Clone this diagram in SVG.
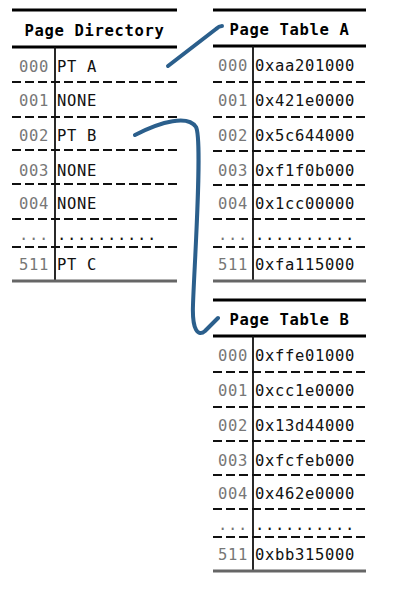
<svg xmlns="http://www.w3.org/2000/svg" width="405" height="590" viewBox="0 0 405 590">
<style>
text{font-family:"DejaVu Sans Mono","Liberation Mono",monospace;font-size:15.5px;letter-spacing:0.67px}
.t{font-weight:bold;text-anchor:middle}
.i{fill:#777;text-anchor:end}
.v{fill:#111}
.top{stroke:#000;stroke-width:3}
.bot{stroke:#666;stroke-width:3}
.d{stroke:#111;stroke-width:2;stroke-dasharray:9 4}
.div{stroke:#111;stroke-width:1.8}
.c{fill:none;stroke:#2b5f8c;stroke-width:4;stroke-linecap:round;stroke-linejoin:round}
</style>
<g id="page-directory">
<line class="top" x1="12" y1="10" x2="177" y2="10"/>
<text class="t" x="94.5" y="36">Page Directory</text>
<line class="top" x1="12" y1="47" x2="177" y2="47"/>
<line class="div" x1="55" y1="47" x2="55" y2="281"/>
<line class="d" x1="12" y1="82" x2="177" y2="82"/>
<line class="d" x1="12" y1="117" x2="177" y2="117"/>
<line class="d" x1="12" y1="150" x2="177" y2="150"/>
<line class="d" x1="12" y1="184" x2="177" y2="184"/>
<line class="d" x1="12" y1="219" x2="177" y2="219"/>
<line class="d" x1="12" y1="247" x2="177" y2="247"/>
<line class="bot" x1="12" y1="281" x2="177" y2="281"/>
<text class="i" x="49" y="72">000</text><text class="v" x="57" y="72">PT A</text>
<text class="i" x="49" y="106">001</text><text class="v" x="57" y="106">NONE</text>
<text class="i" x="49" y="141">002</text><text class="v" x="57" y="141">PT B</text>
<text class="i" x="49" y="176">003</text><text class="v" x="57" y="176">NONE</text>
<text class="i" x="49" y="209">004</text><text class="v" x="57" y="209">NONE</text>
<text class="i" x="49" y="240">...</text><text class="v" x="57" y="240">..........</text>
<text class="i" x="49" y="270">511</text><text class="v" x="57" y="270">PT C</text>
</g>
<g id="page-table-a">
<line class="top" x1="213" y1="10" x2="366" y2="10"/>
<text class="t" x="289.5" y="35">Page Table A</text>
<line class="top" x1="213" y1="46" x2="366" y2="46"/>
<line class="div" x1="253" y1="46" x2="253" y2="281"/>
<line class="d" x1="213" y1="82" x2="366" y2="82"/>
<line class="d" x1="213" y1="117" x2="366" y2="117"/>
<line class="d" x1="213" y1="151" x2="366" y2="151"/>
<line class="d" x1="213" y1="185" x2="366" y2="185"/>
<line class="d" x1="213" y1="219" x2="366" y2="219"/>
<line class="d" x1="213" y1="247" x2="366" y2="247"/>
<line class="bot" x1="213" y1="281" x2="366" y2="281"/>
<text class="i" x="248" y="71">000</text><text class="v" x="255" y="71">0xaa201000</text>
<text class="i" x="248" y="106">001</text><text class="v" x="255" y="106">0x421e0000</text>
<text class="i" x="248" y="141">002</text><text class="v" x="255" y="141">0x5c644000</text>
<text class="i" x="248" y="176">003</text><text class="v" x="255" y="176">0xf1f0b000</text>
<text class="i" x="248" y="209">004</text><text class="v" x="255" y="209">0x1cc00000</text>
<text class="i" x="248" y="240">...</text><text class="v" x="255" y="240">..........</text>
<text class="i" x="248" y="270">511</text><text class="v" x="255" y="270">0xfa115000</text>
</g>
<g id="page-table-b">
<line class="top" x1="213" y1="300" x2="366" y2="300"/>
<text class="t" x="289.5" y="325">Page Table B</text>
<line class="top" x1="213" y1="336" x2="366" y2="336"/>
<line class="div" x1="253" y1="336" x2="253" y2="571"/>
<line class="d" x1="213" y1="372" x2="366" y2="372"/>
<line class="d" x1="213" y1="407" x2="366" y2="407"/>
<line class="d" x1="213" y1="441" x2="366" y2="441"/>
<line class="d" x1="213" y1="475" x2="366" y2="475"/>
<line class="d" x1="213" y1="509" x2="366" y2="509"/>
<line class="d" x1="213" y1="537" x2="366" y2="537"/>
<line class="bot" x1="213" y1="571" x2="366" y2="571"/>
<text class="i" x="248" y="361">000</text><text class="v" x="255" y="361">0xffe01000</text>
<text class="i" x="248" y="396">001</text><text class="v" x="255" y="396">0xcc1e0000</text>
<text class="i" x="248" y="431">002</text><text class="v" x="255" y="431">0x13d44000</text>
<text class="i" x="248" y="466">003</text><text class="v" x="255" y="466">0xfcfeb000</text>
<text class="i" x="248" y="499">004</text><text class="v" x="255" y="499">0x462e0000</text>
<text class="i" x="248" y="530">...</text><text class="v" x="255" y="530">..........</text>
<text class="i" x="248" y="560">511</text><text class="v" x="255" y="560">0xbb315000</text>
</g>
<g id="connectors">
<path class="c" d="M168,66 L216,29 Q219,26 222,26"/>
<path class="c" d="M135,135 C162,121 188,115 196,127 C203,140 194,270 193,305 C192,330 198,337 205,331 L218,318"/>
</g>
</svg>
